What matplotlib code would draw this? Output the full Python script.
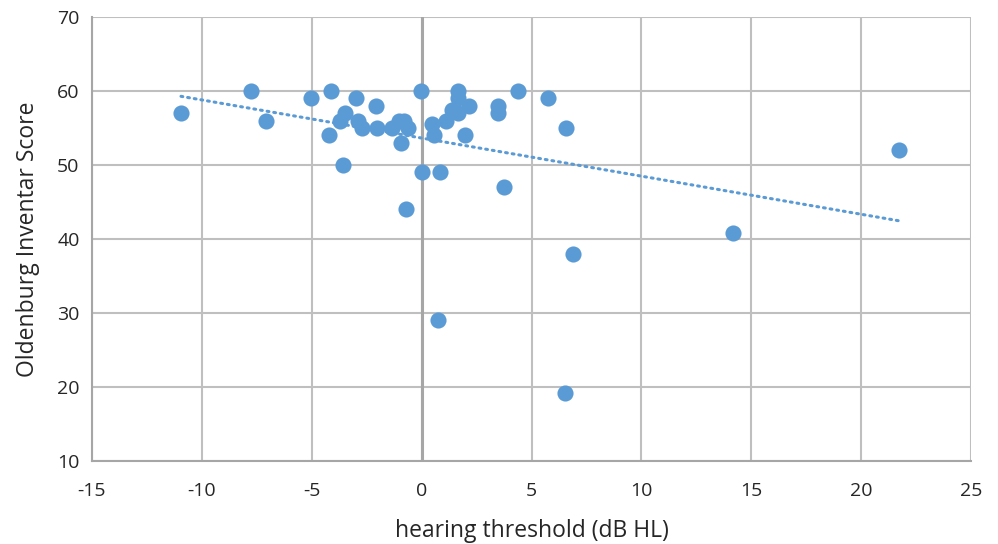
import numpy as np
import matplotlib.pyplot as plt

plt.rcParams['font.family'] = ['Open Sans', 'DejaVu Sans']
plt.rcParams['axes.unicode_minus'] = False

# hearing threshold (dB HL) vs Oldenburg Inventar score
threshold = [-10.95, -7.77, -7.08, -5.03, -4.13, -4.2, -3.7, -3.48, -3.58, -2.98,
             -2.9, -2.72, -2.08, -2.03, -1.35, -1.03, -0.8, -0.94, -0.63, -0.71,
             -0.05, 0.0, 0.83, 0.75, 0.47, 0.56, 1.1, 1.37, 1.67, 1.67,
             1.64, 2.17, 1.97, 3.46, 3.46, 4.4, 3.74, 5.75, 6.57, 6.89,
             6.52, 14.17, 21.72]
score = [57, 60, 56, 59, 60, 54, 56, 57, 50, 59,
         56, 55, 58, 55, 55, 56, 56, 53, 55, 44,
         60, 49, 49, 29, 55.5, 54, 56, 57.5, 57, 60,
         59, 58, 54, 58, 57, 60, 47, 59, 55, 38,
         19.2, 40.8, 52]

blue = '#5B9BD5'
grid_col = '#BFBFBF'

fig = plt.figure(figsize=(9.98, 5.44), dpi=100)
ax = fig.add_axes([92/998, 1-461/544, 879/998, 444/544])

ax.scatter(threshold, score, s=135, color=blue, zorder=3, linewidths=0)

# linear trendline over the data range
k, b = np.polyfit(threshold, score, 1)
xs = np.array([min(threshold), max(threshold)])
ax.plot(xs, k*xs + b, color=blue, lw=2.2, linestyle=(0, (0.6, 1.6)),
        dash_capstyle='round', zorder=2)

ax.set_xlim(-15, 25)
ax.set_ylim(10, 70)
ax.set_xticks(range(-15, 26, 5))
ax.set_yticks(range(10, 71, 10))
ax.grid(True, color=grid_col, lw=1.5)
ax.set_axisbelow(True)

for s in ['top', 'right']:
    ax.spines[s].set_visible(False)
for s in ['left', 'bottom']:
    ax.spines[s].set_color('#A6A6A6')
    ax.spines[s].set_linewidth(1.5)
ax.axvline(0, color='#A6A6A6', lw=2.2, zorder=1)
ax.tick_params(length=0, labelsize=14)
ax.tick_params(axis='x', pad=15)
ax.tick_params(axis='y', pad=9)
for lab in ax.get_xticklabels() + ax.get_yticklabels():
    lab.set_color('#262626')

ax.set_xlabel('hearing threshold (dB HL)', fontsize=16.5, color='#262626', labelpad=14)
ax.set_ylabel('Oldenburg Inventar Score', fontsize=16.5, color='#262626', labelpad=12)

fig.savefig('out.png', dpi=100)
